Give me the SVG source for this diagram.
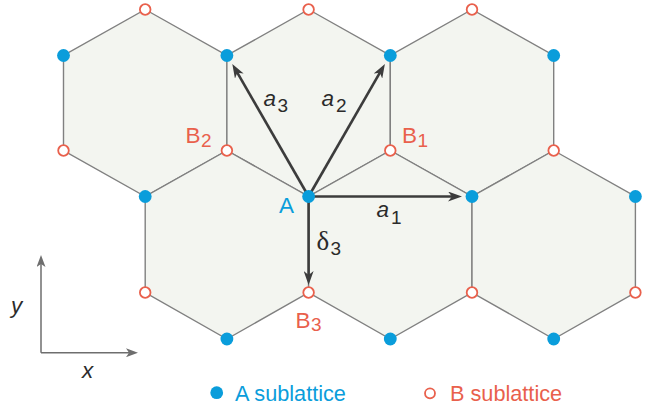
<svg xmlns="http://www.w3.org/2000/svg" width="662" height="414" viewBox="0 0 662 414">
<style>
.hex{fill:#f3f5f0;stroke:#808080;stroke-width:1.4}
.a{fill:#0a9ddb}
.b{fill:#ffffff;stroke:#e9604c;stroke-width:1.8}
.vec{stroke:#3c3c3c;stroke-width:2.6;fill:none}
.ax{stroke:#6e6e6e;stroke-width:1.5;fill:none}
text{font-family:"Liberation Sans",Arial,sans-serif}
.lab{font-size:22.5px}
.sub{font-size:19px}
.dk{fill:#2b2b2b}
.bl{fill:#0a9ddb}
.rd{fill:#e9604c}
.it{font-style:italic}
</style>
<defs>
<marker id="arr" viewBox="0 0 14 10" refX="6" refY="5" markerWidth="14" markerHeight="10" markerUnits="userSpaceOnUse" orient="auto">
<path d="M0,0 L14,5 L0,10 L4,5 z" fill="#3c3c3c"/>
</marker>
<marker id="axarr" viewBox="0 0 12 9" refX="8" refY="4.5" markerWidth="12" markerHeight="9" markerUnits="userSpaceOnUse" orient="auto">
<path d="M0,0 L12,4.5 L0,9 L3,4.5 z" fill="#6e6e6e"/>
</marker>
</defs>
<g id="lattice">
<polygon class="hex" points="145.2,9.5 226.9,55.5 226.9,150.5 145.2,196.5 63.5,150.5 63.5,55.5"/>
<polygon class="hex" points="308.6,9.5 390.3,55.5 390.3,150.5 308.6,196.5 226.9,150.5 226.9,55.5"/>
<polygon class="hex" points="472,9.5 553.7,55.5 553.7,150.5 472,196.5 390.3,150.5 390.3,55.5"/>
<polygon class="hex" points="226.9,150.5 308.6,196.5 308.6,292.5 226.9,339 145.2,292.5 145.2,196.5"/>
<polygon class="hex" points="390.3,150.5 472,196.5 472,292.5 390.3,339 308.6,292.5 308.6,196.5"/>
<polygon class="hex" points="553.7,150.5 635.4,196.5 635.4,292.5 553.7,339 472,292.5 472,196.5"/>
</g>
<g id="connectors">
<line class="vec" x1="308.6" y1="196.5" x2="236.3" y2="70.9" marker-end="url(#arr)"/>
<line class="vec" x1="308.6" y1="196.5" x2="380.9" y2="70.9" marker-end="url(#arr)"/>
<line class="vec" x1="308.6" y1="196.5" x2="454" y2="196.5" marker-end="url(#arr)"/>
<line class="vec" x1="308.6" y1="196.5" x2="308.6" y2="277" marker-end="url(#arr)"/>
<line class="ax" x1="41" y1="352.7" x2="41" y2="259" marker-end="url(#axarr)"/>
<line class="ax" x1="41" y1="352.7" x2="134" y2="352.7" marker-end="url(#axarr)"/>
</g>
<g id="sitesA">
<circle id="a1s" class="a" cx="63.5" cy="55.5" r="6.4"/>
<circle id="a2s" class="a" cx="226.9" cy="55.5" r="6.4"/>
<circle id="a3s" class="a" cx="390.3" cy="55.5" r="6.4"/>
<circle id="a4s" class="a" cx="553.7" cy="55.5" r="6.4"/>
<circle id="a5s" class="a" cx="145.2" cy="196.5" r="6.4"/>
<circle id="a6s" class="a" cx="308.6" cy="196.5" r="6.4"/>
<circle id="a7s" class="a" cx="472" cy="196.5" r="6.4"/>
<circle id="a8s" class="a" cx="635.4" cy="196.5" r="6.4"/>
<circle id="a9s" class="a" cx="226.9" cy="339" r="6.4"/>
<circle id="a10s" class="a" cx="390.3" cy="339" r="6.4"/>
<circle id="a11s" class="a" cx="553.7" cy="339" r="6.4"/>
</g>
<g id="sitesB">
<circle id="b1s" class="b" cx="145.2" cy="9.5" r="5.3"/>
<circle id="b2s" class="b" cx="308.6" cy="9.5" r="5.3"/>
<circle id="b3s" class="b" cx="472" cy="9.5" r="5.3"/>
<circle id="b4s" class="b" cx="63.5" cy="150.5" r="5.3"/>
<circle id="b5s" class="b" cx="226.9" cy="150.5" r="5.3"/>
<circle id="b6s" class="b" cx="390.3" cy="150.5" r="5.3"/>
<circle id="b7s" class="b" cx="553.7" cy="150.5" r="5.3"/>
<circle id="b8s" class="b" cx="145.2" cy="292.5" r="5.3"/>
<circle id="b9s" class="b" cx="308.6" cy="292.5" r="5.3"/>
<circle id="b10s" class="b" cx="472" cy="292.5" r="5.3"/>
<circle id="b11s" class="b" cx="635.4" cy="292.5" r="5.3"/>
</g>
<g id="labels">
<text class="lab dk it" x="263.5" y="106">a</text><text class="sub dk" x="277.5" y="112">3</text>
<text class="lab dk it" x="321.5" y="106">a</text><text class="sub dk" x="336" y="112">2</text>
<text class="lab dk it" x="376.5" y="216.7">a</text><text class="sub dk" x="391" y="224">1</text>
<text class="dk" x="316.5" y="250" style="font-family:'Liberation Serif','Times New Roman',serif;font-size:27px">δ</text><text class="sub dk" x="330.5" y="255">3</text>
<text class="lab bl" x="279" y="213.3">A</text>
<text class="lab rd" x="185.5" y="143">B</text><text class="sub rd" x="201" y="147">2</text>
<text class="lab rd" x="402" y="143.3">B</text><text class="sub rd" x="417.5" y="147">1</text>
<text class="lab rd" x="295.5" y="328.3">B</text><text class="sub rd" x="311" y="331">3</text>
<text class="lab dk it" x="11" y="313">y</text>
<text class="lab dk it" x="82" y="378">x</text>
</g>
<g id="legend">
<circle class="a" cx="216.7" cy="392.7" r="6.4"/>
<text class="bl" x="235" y="401" style="font-size:21.7px">A sublattice</text>
<circle class="b" cx="430" cy="393.3" r="5"/>
<text class="rd" x="450" y="401" style="font-size:21.7px">B sublattice</text>
</g>
</svg>
